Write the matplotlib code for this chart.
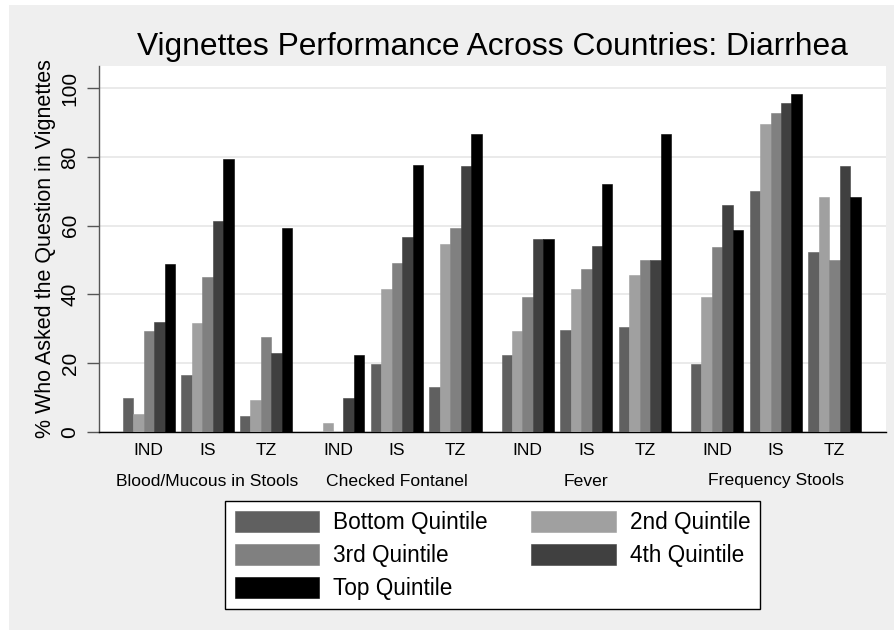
import matplotlib
matplotlib.use("Agg")
import matplotlib.pyplot as plt
from matplotlib.patches import Rectangle
import matplotlib.transforms as mtransforms

plt.rcParams['font.family'] = ['Liberation Sans', 'DejaVu Sans']

categories = ["Blood/Mucous in Stools", "Checked Fontanel", "Fever", "Frequency Stools"]
countries = ["IND", "IS", "TZ"]
quintiles = ["Bottom Quintile", "2nd Quintile", "3rd Quintile", "4th Quintile", "Top Quintile"]

# values ordered category-major, country-minor (IND, IS, TZ)
bottom_q = [9.9, 16.4, 4.5, 0.0, 19.7, 13.1, 22.2, 29.6, 30.6, 19.6, 70.1, 52.3]
second_q = [5.1, 31.6, 9.3, 2.4, 41.6, 54.8, 29.4, 41.6, 45.6, 39.1, 89.6, 68.3]
third_q = [29.4, 45.0, 27.6, 0.0, 49.2, 59.2, 39.1, 47.4, 50.1, 53.8, 92.9, 50.1]
fourth_q = [31.9, 61.5, 22.8, 9.9, 56.8, 77.4, 56.2, 54.1, 50.1, 66.1, 95.7, 77.4]
top_q = [48.9, 79.4, 59.2, 22.2, 77.8, 86.7, 56.2, 72.1, 86.7, 58.6, 98.3, 68.3]
series = [bottom_q, second_q, third_q, fourth_q, top_q]
colors = ["#606060", "#a0a0a0", "#808080", "#404040", "#000000"]

W, H = 895, 630
fig = plt.figure(figsize=(W / 100, H / 100), dpi=100)
fig.patch.set_facecolor("white")
fig.patches.append(Rectangle((9 / W, 0), 1 - 9 / W, 1 - 5 / H, transform=fig.transFigure,
                             facecolor="#efefef", edgecolor="none", zorder=-10))

left, right, top, bot = 99, 886, 66, 431.7
ax = fig.add_axes([left / W, 1 - bot / H, (right - left) / W, (bot - top) / H])
ax.set_facecolor("white")

cat_pitch = 18.09
grp_pitch = 5.6
bw = 1.0

handles = []
for qi, (vals, col) in enumerate(zip(series, colors)):
    xs = []
    for ci in range(len(categories)):
        for gi in range(len(countries)):
            xs.append(ci * cat_pitch + gi * grp_pitch + qi * bw + bw / 2)
    h = ax.bar(xs, vals, width=bw, color=col, edgecolor=col, linewidth=0.4,
               label=quintiles[qi], zorder=3)
    handles.append(h)

ax.set_xlim(-2.26, 72.9)
ax.set_ylim(0, 106.5)
ax.set_yticks([0, 20, 40, 60, 80, 100])
ax.set_yticklabels(["0", "20", "40", "60", "80", "100"], rotation=90, va="center",
                   fontsize=15)
ax.tick_params(axis="y", length=9, width=1, color="#555555", pad=5)
ax.set_xticks([])
ax.grid(axis="y", color="#e8e8e8", linewidth=1.3, zorder=0)
ax.set_axisbelow(True)
for s in ["top", "right"]:
    ax.spines[s].set_visible(False)
ax.spines["left"].set_color("#555555")
ax.spines["left"].set_linewidth(1.0)
ax.spines["bottom"].set_color("#000000")
ax.spines["bottom"].set_linewidth(1.0)

trans = mtransforms.blended_transform_factory(ax.transData, fig.transFigure)
for ci, cat in enumerate(categories):
    for gi, ctry in enumerate(countries):
        xc = ci * cat_pitch + gi * grp_pitch + 2.5 * bw
        ax.text(xc, 1 - 450.7 / H, ctry, transform=trans, ha="center", va="center",
                fontsize=12.6)
    xm = ci * cat_pitch + (2 * grp_pitch + 5 * bw) / 2
    ax.text(xm, 1 - 481 / H, cat, transform=trans, ha="center", va="center",
            fontsize=12.6)

ax.set_ylabel("% Who Asked the Question in Vignettes", fontsize=15.5, labelpad=3)
ax.set_title("Vignettes Performance Across Countries: Diarrhea", fontsize=22.9, pad=8)

order = [0, 2, 4, 1, 3]
leg = fig.legend([handles[i] for i in order], [quintiles[i] for i in order],
                 loc="upper left", bbox_to_anchor=(225 / W, 1 - 501.4 / H), ncol=2,
                 fontsize=16.3, handlelength=3.75, handleheight=1.06, handletextpad=0.62,
                 columnspacing=1.9, labelspacing=0.42, borderpad=0.42, borderaxespad=0,
                 fancybox=False, framealpha=1, edgecolor="black")
leg.get_frame().set_linewidth(1.0)

fig.savefig("out.png", dpi=100, facecolor=fig.get_facecolor())
